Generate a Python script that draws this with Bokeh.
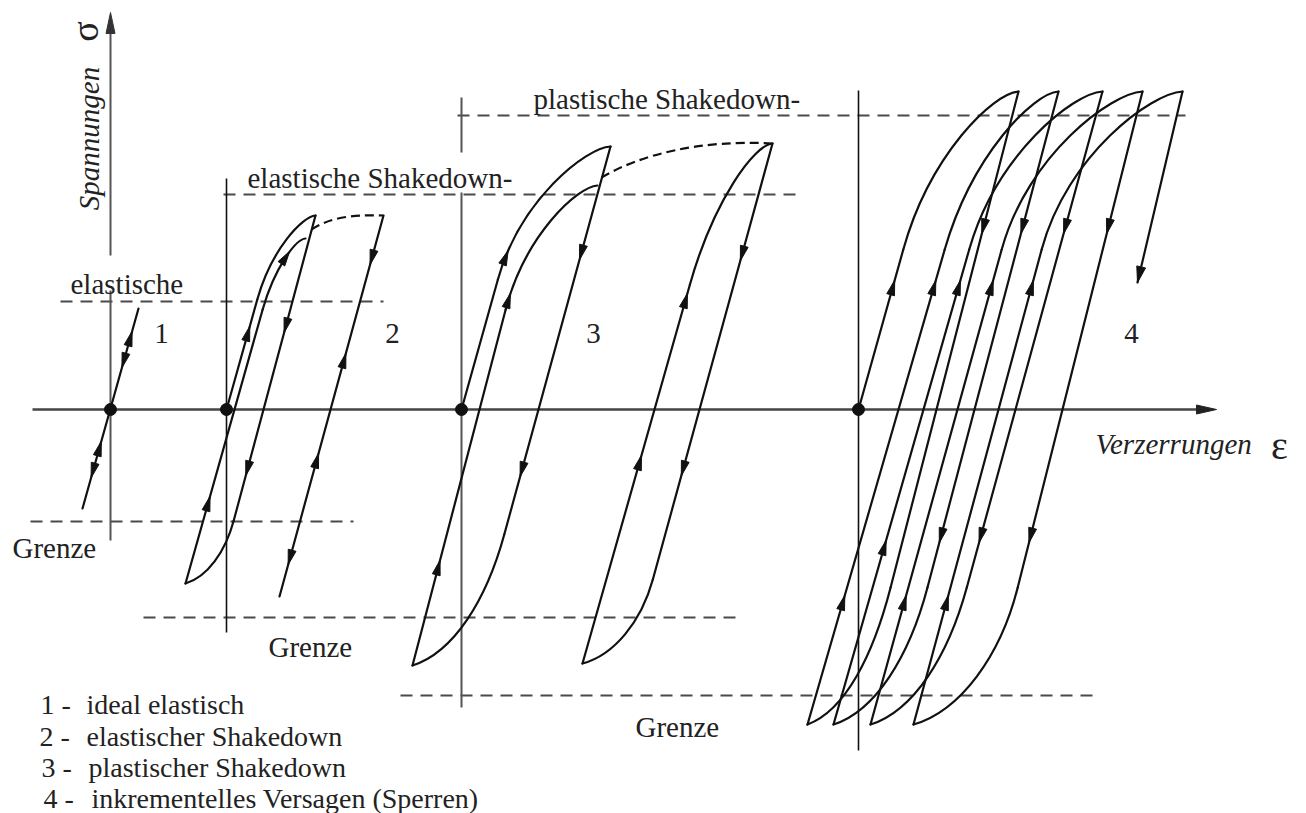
import numpy as np
from bokeh.plotting import figure
from bokeh.models import Range1d
from bokeh.embed import file_html
from bokeh.resources import INLINE
from bokeh.core.properties import value

W, H = 1306, 813
SIG_MAX, SIG_MIN = 409, -404      # stress extent of the drawing, strain axis at sigma = 0
EPS_MIN, EPS_MAX = 0, 1306

ELASTIC_SLOPE = 0.28              # strain per unit stress along elastic branches

# origins of the four cases on the strain axis
ORIGINS = [110, 226, 461, 858]

# limit stresses (upper, lower) and the strain span of their dashed lines
LIMIT_SIG = [(108, -112), (215, -208), (294, -286)]
LIMIT_UPPER_SPAN = [(60, 383), (223, 795), (457, 1185)]
LIMIT_LOWER_SPAN = [(30, 353), (143, 738), (400, 1100)]

# vertical stress axes of the cases: (strain, bottom, top) pieces
AXIS_PIECES = [(110, -131, 119), (110, 154, 380), (226, -223, 231),
               (461, -298, 217), (461, 257, 312), (858, -341, 319)]

# ---- case 1: ideal elastic
CASE1_LINE = [(82, -99), (138, 101)]
CASE1_ARROWS = [(71, 1), (49, -1), (-39, 1), (-61, -1)]

# ---- case 2: elastic shakedown
# branch = (start, end, strain where the straight part meets sigma = 0, stress where it starts to bend)
CASE2_BRANCHES = [
    ((226, 0), (315, 194), 226, 110),
    ((315, 194), (185, -174), 263, -111),
    ((185, -174), (305, 171), 234, 100),
]
CASE2_ARROWS = [[(76, 1)], [(84, -1), (-59, -1)], [(-94, 1), (152, 1)]]
CASE2_STABLE = [(383, 194), (279, -187)]
CASE2_STABLE_ARROWS = [(152, -1), (49, 1), (-51, 1), (-148, -1)]
CASE2_PEAK_PATH = [(311, 180), (330, 192), (350, 195), (383, 194)]   # start, c1, c2, end

# ---- case 3: plastic shakedown
CASE3_BRANCHES = [
    ((461, 0), (610, 263), 461, 130),
    ((610, 263), (412, -256), 538, -125),
    ((412, -256), (597, 224), 479, 100),
    ((582, -254), (772, 266), 654, 125),
    ((772, 266), (582, -254), 699, -170),
]
CASE3_ARROWS = [[(152, 1)], [(157, -1), (-60, -1)], [(-158, 1), (109, 1)],
                [(-53, 1), (109, 1)], [(156, -1), (-59, -1)]]
CASE3_PEAK_PATH = [(601, 232), (640, 255), (700, 270), (772, 266)]

# ---- case 4: incremental collapse (ratcheting)
CASE4_PEAKS_EPS = [1018, 1058, 1102, 1142, 1182]
CASE4_PEAK_SIG = 318
CASE4_TIPS_EPS = [807, 833, 870, 913]
CASE4_TIP_SIG = -315
CASE4_RELOAD_CROSS = [898, 923, 957, 998]
CASE4_UNLOAD_CROSS = [936, 974, 1015, 1062]
CASE4_LOAD_KNEE = 160
CASE4_UNLOAD_KNEE = -178
CASE4_LAST_END = (1137, 127)
CASE4_FIRST_ARROWS = [(122, 1)]
CASE4_RELOAD_ARROWS = [[(122, 1), (-193, 1)], [(122, 1), (-138, 1)],
                       [(122, 1), (-193, 1)], [(122, 1), (-193, 1)]]
CASE4_UNLOAD_ARROWS = [[(183, -1)], [(183, -1), (-126, -1)],
                       [(183, -1), (-126, -1)], [(183, -1), (-126, -1)]]

LEGEND_NUM = ["1 -", "2 -", "3 -", "4 -"]
LEGEND_TEXT = ["ideal elastisch", "elastischer Shakedown",
               "plastischer Shakedown", "inkrementelles Versagen (Sperren)"]

INK = "#111111"
TEXT = "#222222"
FONT = "Liberation Serif"

# ------------------------------------------------------------------ geometry helpers
segs = {"x0": [], "y0": [], "x1": [], "y1": []}
bez = {k: [] for k in ("x0", "y0", "x1", "y1", "cx0", "cy0", "cx1", "cy1")}
arrow_xs, arrow_ys = [], []


def cubic(p0, p1, p2, p3, n=300):
    t = np.linspace(0, 1, n)[:, None]
    pts = ((1 - t) ** 3) * np.array(p0) + 3 * ((1 - t) ** 2) * t * np.array(p1) \
        + 3 * (1 - t) * t ** 2 * np.array(p2) + t ** 3 * np.array(p3)
    return pts[:, 0], pts[:, 1]


def add_line(a, b):
    segs["x0"].append(a[0]); segs["y0"].append(a[1])
    segs["x1"].append(b[0]); segs["y1"].append(b[1])
    return np.linspace(a[0], b[0], 60), np.linspace(a[1], b[1], 60)


def add_branch(start, end, cross, knee):
    """Straight elastic part from start, then a bent part ending at end."""
    (xs, ys), (xe, ye) = start, end
    slope = ELASTIC_SLOPE if ys == 0 else (cross - xs) / (0 - ys)
    xk, yk = cross + slope * knee, knee
    h = ye - yk
    if h > 0:      # loading branch
        c1 = (xk + slope * 0.6 * h, yk + 0.6 * h)
        c2 = (xe - 0.22 * (xe - xk), ye - 0.01 * h)
    else:          # unloading branch
        c1 = (xk + slope * 0.5 * h, yk + 0.5 * h)
        c2 = (xe + 0.45 * (xk - xe), ye - 0.1 * h)
    px, py = [], []
    if (xk, yk) != (xs, ys):
        lx, ly = add_line((xs, ys), (xk, yk))
        px.append(lx); py.append(ly)
    for k, v in zip(("x0", "y0", "cx0", "cy0", "cx1", "cy1", "x1", "y1"),
                    (xk, yk, c1[0], c1[1], c2[0], c2[1], xe, ye)):
        bez[k].append(v)
    bx, by = cubic((xk, yk), c1, c2, (xe, ye))
    px.append(bx); py.append(by)
    return np.concatenate(px), np.concatenate(py)


def arrow_head(tip, u, length=15, width=8):
    ux, uy = u
    nx, ny = -uy, ux
    bx, by = tip[0] - ux * length, tip[1] - uy * length
    arrow_xs.append([tip[0], bx + nx * width / 2, bx - nx * width / 2])
    arrow_ys.append([tip[1], by + ny * width / 2, by - ny * width / 2])


def add_arrows(path, arrows, length=15):
    x, y = path
    for sig, direction in arrows:
        d = y - sig
        i = int(np.where(d[:-1] * d[1:] <= 0)[0][0])
        f = 0 if y[i + 1] == y[i] else (sig - y[i]) / (y[i + 1] - y[i])
        px, py = x[i] + f * (x[i + 1] - x[i]), sig
        tx, ty = x[i + 1] - x[i], y[i + 1] - y[i]
        norm = np.hypot(tx, ty)
        tx, ty = tx / norm, ty / norm
        if (ty > 0) != (direction > 0):
            tx, ty = -tx, -ty
        arrow_head((px + tx * length / 2, py + ty * length / 2), (tx, ty), length)


# ------------------------------------------------------------------ build the cases
add_arrows(add_line(*CASE1_LINE), CASE1_ARROWS)

for br, arr in zip(CASE2_BRANCHES, CASE2_ARROWS):
    add_arrows(add_branch(*br), arr)
add_arrows(add_line(*CASE2_STABLE), CASE2_STABLE_ARROWS)

for br, arr in zip(CASE3_BRANCHES, CASE3_ARROWS):
    add_arrows(add_branch(*br), arr)

peaks = [(e, CASE4_PEAK_SIG) for e in CASE4_PEAKS_EPS]
tips = [(e, CASE4_TIP_SIG) for e in CASE4_TIPS_EPS]
add_arrows(add_branch((ORIGINS[3], 0), peaks[0], ORIGINS[3], CASE4_LOAD_KNEE), CASE4_FIRST_ARROWS)
for i in range(len(tips)):
    add_arrows(add_branch(peaks[i], tips[i], CASE4_UNLOAD_CROSS[i], CASE4_UNLOAD_KNEE),
               CASE4_UNLOAD_ARROWS[i])
    add_arrows(add_branch(tips[i], peaks[i + 1], CASE4_RELOAD_CROSS[i], CASE4_LOAD_KNEE),
               CASE4_RELOAD_ARROWS[i])
add_line(peaks[-1], CASE4_LAST_END)
lu = np.array(CASE4_LAST_END) - np.array(peaks[-1])
arrow_head(CASE4_LAST_END, tuple(lu / np.hypot(*lu)), 16, 9)

# ------------------------------------------------------------------ figure
p = figure(width=W, height=H, x_range=Range1d(EPS_MIN, EPS_MAX), y_range=Range1d(SIG_MIN, SIG_MAX),
           output_backend="svg", toolbar_location=None,
           x_axis_location=None, y_axis_location=None, min_border=0)
p.outline_line_color = None
p.background_fill_color = "white"
p.border_fill_color = "white"
p.xgrid.visible = False
p.ygrid.visible = False

# limit stress lines
for (su, sl), (u0, u1), (l0, l1) in zip(LIMIT_SIG, LIMIT_UPPER_SPAN, LIMIT_LOWER_SPAN):
    p.segment(x0=[u0, l0], y0=[su, sl], x1=[u1, l1], y1=[su, sl],
              line_color="#4a4a4a", line_width=2, line_dash="12 8")

# strain axis with arrow
p.segment(x0=[32], y0=[0], x1=[1200], y1=[0], line_color="#444444", line_width=2.5)
p.patch(x=[1216, 1196, 1196], y=[0, 4.5, -4.5], color="#222222")

# stress axes
for e, lo, hi in AXIS_PIECES:
    grey = e in (ORIGINS[0], ORIGINS[2])
    p.segment(x0=[e], y0=[lo], x1=[e], y1=[hi],
              line_color="#555555" if grey else INK, line_width=2 if grey else 1.6)
p.patch(x=[ORIGINS[0], ORIGINS[0] - 4.5, ORIGINS[0] + 4.5], y=[397, 376, 376], color="#333333")

# stress-strain paths
p.segment(x0="x0", y0="y0", x1="x1", y1="y1", source=segs,
          line_color=INK, line_width=2.2, line_cap="round")
p.bezier(x0="x0", y0="y0", x1="x1", y1="y1", cx0="cx0", cy0="cy0", cx1="cx1", cy1="cy1",
         source=bez, line_color=INK, line_width=2.2, line_cap="round")

# peak stress paths (dashed)
for s, c1, c2, e in (CASE2_PEAK_PATH, CASE3_PEAK_PATH):
    p.bezier(x0=[s[0]], y0=[s[1]], x1=[e[0]], y1=[e[1]], cx0=[c1[0]], cy0=[c1[1]],
             cx1=[c2[0]], cy1=[c2[1]], line_color=INK, line_width=2.2, line_dash="9 5")

p.patches(xs=arrow_xs, ys=arrow_ys, color=INK)
p.scatter(x=ORIGINS, y=[0] * len(ORIGINS), size=12, color=INK)


# labels
def label(x, y, txt, size="29px", align="left", style="normal", angle=0.0, font=FONT):
    p.text(x=[x], y=[y], text=[txt], text_font=value(font), text_font_size=size,
           text_align=align, text_baseline="alphabetic", text_color=TEXT,
           text_font_style=style, angle=angle)


label(70, 126, "elastische")
label(247, 232, "elastische Shakedown-")
label(533, 311, "plastische Shakedown-")
for x, n in zip([161, 392, 593, 1131], ["1", "2", "3", "4"]):
    label(x, 76, n, align="center")
label(12, -138, "Grenze")
label(268, -237, "Grenze")
label(635, -317, "Grenze")

legend_base = [-295, -327, -358, -389]
legend_num_x = [40, 39, 41, 43]
legend_txt_x = [86, 86, 88, 91]
for b, nx, tx, num, txt in zip(legend_base, legend_num_x, legend_txt_x, LEGEND_NUM, LEGEND_TEXT):
    label(nx, b, num, size="28px")
    label(tx, b, txt, size="28px")

label(1095, -34, "Verzerrungen", style="italic")
label(1279, -36, "ε", size="40px", align="center")
label(88, 271, "Spannungen", style="italic", align="center", angle=np.pi / 2)
label(84, 378, "σ", size="38px", align="center", angle=np.pi / 2)

open("out.html", "w").write(file_html(p, INLINE))
